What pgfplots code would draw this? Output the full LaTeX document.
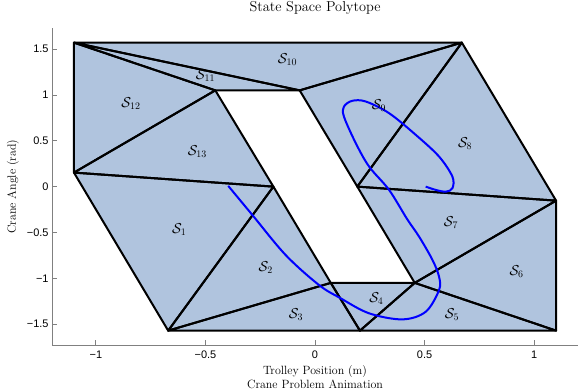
\documentclass[border=0pt]{standalone}
\usepackage{fontspec}
\newfontfamily\ticksf{Liberation Sans}
\usepackage{pgfplots}
\pgfplotsset{compat=1.18}
\definecolor{poly}{RGB}{176,196,222}
\definecolor{traj}{RGB}{0,0,255}
\pgfplotsset{edge/.style={draw=black, line width=2bp, line join=round, mark=none}}
\begin{document}
\begin{tikzpicture}
\begin{axis}[
 scale only axis, width=525.6bp, height=317bp,
 xmin=-1.2, xmax=1.2, ymin=-1.73, ymax=1.73,
 axis x line*=bottom, axis y line*=left,
 axis line style={draw=gray, line width=1bp},
 tick align=inside, major tick length=5bp,
 every tick/.style={gray, line width=0.8bp},
 xtick={-1,-0.5,0,0.5,1}, xticklabels={−1,−0.5,0,0.5,1},
 ytick={-1.5,-1,-0.5,0,0.5,1,1.5}, yticklabels={−1.5,−1,−0.5,0,0.5,1,1.5},
 ticklabel style={font=\ticksf\fontsize{11}{13}\selectfont},
 xticklabel style={yshift=-2bp},
 title={State Space Polytope},
 title style={font=\fontsize{14.4}{17}\selectfont, at={(axis description cs:0.5,1.0442)}, anchor=center},
 xlabel={Trolley Position (m)\\Crane Problem Animation},
 xlabel style={font=\fontsize{12}{14}\selectfont, align=center, at={(axis description cs:0.5,-0.101)}, anchor=center},
 ylabel={Crane Angle (rad)},
 every axis y label/.style={font=\fontsize{12}{14}\selectfont, at={(axis description cs:-0.0742,0.5)}, rotate=90, anchor=center},
 clip=false,
]
\coordinate (bl) at (rel axis cs:0,0);
\coordinate (tr) at (rel axis cs:1,1);
% fills
\addplot[fill=poly, draw=none] coordinates {(-1.1,0.153) (-0.19,0) (-0.67,-1.5708)} --cycle;
\addplot[fill=poly, draw=none] coordinates {(-0.19,0) (-0.67,-1.5708) (0.072,-1.05)} --cycle;
\addplot[fill=poly, draw=none] coordinates {(-0.67,-1.5708) (0.072,-1.05) (0.205,-1.5708)} --cycle;
\addplot[fill=poly, draw=none] coordinates {(0.072,-1.05) (0.455,-1.05) (0.205,-1.5708)} --cycle;
\addplot[fill=poly, draw=none] coordinates {(0.455,-1.05) (0.205,-1.5708) (1.1,-1.5708)} --cycle;
\addplot[fill=poly, draw=none] coordinates {(0.455,-1.05) (1.1,-1.5708) (1.1,-0.153)} --cycle;
\addplot[fill=poly, draw=none] coordinates {(0.455,-1.05) (1.1,-0.153) (0.193,0)} --cycle;
\addplot[fill=poly, draw=none] coordinates {(0.193,0) (1.1,-0.153) (0.67,1.5708)} --cycle;
\addplot[fill=poly, draw=none] coordinates {(0.193,0) (0.67,1.5708) (-0.07,1.05)} --cycle;
\addplot[fill=poly, draw=none] coordinates {(-0.07,1.05) (0.67,1.5708) (-1.1,1.5708)} --cycle;
\addplot[fill=poly, draw=none] coordinates {(-1.1,1.5708) (-0.07,1.05) (-0.455,1.05)} --cycle;
\addplot[fill=poly, draw=none] coordinates {(-1.1,1.5708) (-0.455,1.05) (-1.1,0.153)} --cycle;
\addplot[fill=poly, draw=none] coordinates {(-1.1,0.153) (-0.455,1.05) (-0.19,0)} --cycle;
% edges
\addplot[edge] coordinates {(-1.1,0.153) (-0.19,0) (-0.67,-1.5708)} --cycle;
\addplot[edge] coordinates {(-0.19,0) (-0.67,-1.5708) (0.072,-1.05)} --cycle;
\addplot[edge] coordinates {(-0.67,-1.5708) (0.072,-1.05) (0.205,-1.5708)} --cycle;
\addplot[edge] coordinates {(0.072,-1.05) (0.455,-1.05) (0.205,-1.5708)} --cycle;
\addplot[edge] coordinates {(0.455,-1.05) (0.205,-1.5708) (1.1,-1.5708)} --cycle;
\addplot[edge] coordinates {(0.455,-1.05) (1.1,-1.5708) (1.1,-0.153)} --cycle;
\addplot[edge] coordinates {(0.455,-1.05) (1.1,-0.153) (0.193,0)} --cycle;
\addplot[edge] coordinates {(0.193,0) (1.1,-0.153) (0.67,1.5708)} --cycle;
\addplot[edge] coordinates {(0.193,0) (0.67,1.5708) (-0.07,1.05)} --cycle;
\addplot[edge] coordinates {(-0.07,1.05) (0.67,1.5708) (-1.1,1.5708)} --cycle;
\addplot[edge] coordinates {(-1.1,1.5708) (-0.07,1.05) (-0.455,1.05)} --cycle;
\addplot[edge] coordinates {(-1.1,1.5708) (-0.455,1.05) (-1.1,0.153)} --cycle;
\addplot[edge] coordinates {(-1.1,0.153) (-0.455,1.05) (-0.19,0)} --cycle;
% trajectory
\addplot[draw=traj, line width=2bp, mark=none, smooth, tension=0.55] coordinates {
(-0.396,0.008) (-0.286,-0.309) (-0.134,-0.746) (0.018,-1.073) (0.117,-1.218)
(0.247,-1.382) (0.399,-1.448) (0.505,-1.365) (0.566,-1.128) (0.566,-0.983)
(0.536,-0.800) (0.475,-0.546) (0.420,-0.353) (0.338,-0.036) (0.247,0.218)
(0.186,0.474) (0.132,0.764) (0.132,0.873) (0.170,0.936) (0.232,0.928)
(0.338,0.801) (0.460,0.564) (0.566,0.328) (0.627,0.109) (0.627,-0.017)
(0.597,-0.055) (0.551,-0.036) (0.505,0.0)};
% region labels
\begin{scope}[every node/.style={font=\fontsize{14.4}{17}\selectfont}]
\node at (axis cs:-0.62,-0.47) {$\mathcal{S}_{1}$};
\node at (axis cs:-0.225,-0.88) {$\mathcal{S}_{2}$};
\node at (axis cs:-0.087,-1.40) {$\mathcal{S}_{3}$};
\node at (axis cs:0.28,-1.22) {$\mathcal{S}_{4}$};
\node at (axis cs:0.625,-1.40) {$\mathcal{S}_{5}$};
\node at (axis cs:0.92,-0.93) {$\mathcal{S}_{6}$};
\node at (axis cs:0.62,-0.39) {$\mathcal{S}_{7}$};
\node at (axis cs:0.685,0.466) {$\mathcal{S}_{8}$};
\node at (axis cs:0.292,0.88) {$\mathcal{S}_{9}$};
\node at (axis cs:-0.126,1.383) {$\mathcal{S}_{10}$};
\node at (axis cs:-0.5,1.21) {$\mathcal{S}_{11}$};
\node at (axis cs:-0.84,0.91) {$\mathcal{S}_{12}$};
\node at (axis cs:-0.537,0.382) {$\mathcal{S}_{13}$};
\end{scope}
\end{axis}
\pgfresetboundingbox
\path[use as bounding box] ([shift={(-52bp,-45bp)}]bl) rectangle ([shift={(0bp,28bp)}]tr);
\end{tikzpicture}
\end{document}
